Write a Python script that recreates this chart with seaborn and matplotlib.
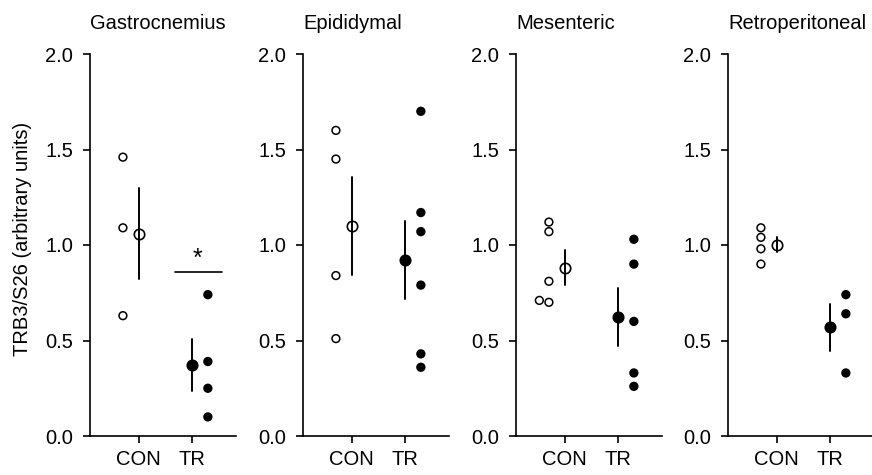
import pandas as pd
import matplotlib
matplotlib.use('Agg')
import matplotlib.pyplot as plt
from matplotlib.ticker import FormatStrFormatter
import seaborn as sns

# values (TRB3/S26, arbitrary units)
groups = ['CON', 'TR']
tissues = ['Gastrocnemius', 'Epididymal', 'Mesenteric', 'Retroperitoneal']
gastro_con = [1.46, 1.09, 0.63]
gastro_tr = [0.74, 0.39, 0.25, 0.10]
epi_con = [1.60, 1.45, 0.84, 0.51]
epi_tr = [1.70, 1.17, 1.07, 0.79, 0.43, 0.36]
mes_con = [1.12, 1.07, 0.81, 0.71, 0.70]
mes_tr = [1.03, 0.90, 0.60, 0.33, 0.26]
retro_con = [1.09, 1.04, 0.98, 0.90]
retro_tr = [0.74, 0.64, 0.33]
y_ticks = [0.0, 0.5, 1.0, 1.5, 2.0]
ylabel = 'TRB3/S26 (arbitrary units)'
sig_label = '*'
sig_y = 0.86

series = {
    'Gastrocnemius': (gastro_con, gastro_tr),
    'Epididymal': (epi_con, epi_tr),
    'Mesenteric': (mes_con, mes_tr),
    'Retroperitoneal': (retro_con, retro_tr),
}

rows = []
for tissue, vals in series.items():
    for gi, g in enumerate(groups):
        for v in vals[gi]:
            rows.append({'tissue': tissue, 'group': g, 'gpos': gi, 'value': v})
df = pd.DataFrame(rows)
# individual points sit beside the group mean
df['xpos'] = df['gpos'] + df['group'].map({'CON': -0.3, 'TR': 0.3})

sns.set_style('ticks')
plt.rcParams['font.family'] = ['Liberation Sans', 'DejaVu Sans']
plt.rcParams.update({
    'axes.linewidth': 1.2,
    'axes.edgecolor': 'black',
    'text.color': 'black',
    'axes.labelcolor': 'black',
    'xtick.color': 'black',
    'ytick.color': 'black',
})

fig = plt.figure(figsize=(8.72, 4.75), dpi=100)
lefts = [90, 303, 516, 728]
faces = {'CON': 'white', 'TR': 'black'}

for i, tissue in enumerate(tissues):
    ax = fig.add_axes([lefts[i] / 872, 39 / 475, 146 / 872, 382 / 475])
    d = df[df['tissue'] == tissue]

    sns.swarmplot(data=d, x='xpos', y='value', hue='group', palette=faces,
                  native_scale=True, orient='x', size=5.6, linewidth=1.1,
                  edgecolor='black', legend=False, ax=ax)

    # mean +/- SEM
    for g in groups:
        sns.pointplot(data=d[d['group'] == g], x='gpos', y='value',
                      native_scale=True, orient='x', errorbar='se',
                      color='black', markers='o', linestyle='none',
                      markersize=7.5, markeredgewidth=1.2,
                      markerfacecolor=faces[g], zorder=5,
                      err_kws={'linewidth': 1.4, 'linestyle': '-'}, ax=ax)

    ax.set_xlim(-0.92, 1.83)
    ax.set_ylim(0, 2)
    ax.set_yticks(y_ticks)
    ax.yaxis.set_major_formatter(FormatStrFormatter('%.1f'))
    ax.set_xticks([0, 1])
    ax.set_xticklabels(groups)
    ax.set_xlabel('')
    ax.set_ylabel('')
    ax.tick_params(axis='both', length=5, width=1.2, labelsize=14.5, color='black')
    ax.tick_params(axis='y', pad=7)
    ax.tick_params(axis='x', pad=5)
    sns.despine(ax=ax)
    ax.set_title(tissue, loc='left', fontsize=14.5, pad=18)

    if i == 0:
        ax.plot([0.69, 1.56], [sig_y, sig_y], color='black', lw=1.2)
        ax.text(1.11, sig_y + 0.005, sig_label, ha='center', va='bottom', fontsize=18)

fig.text(23 / 872, 0.498, ylabel, rotation=90, ha='center', va='center', fontsize=14.5)

fig.savefig('out.png', dpi=100)
plt.close(fig)
